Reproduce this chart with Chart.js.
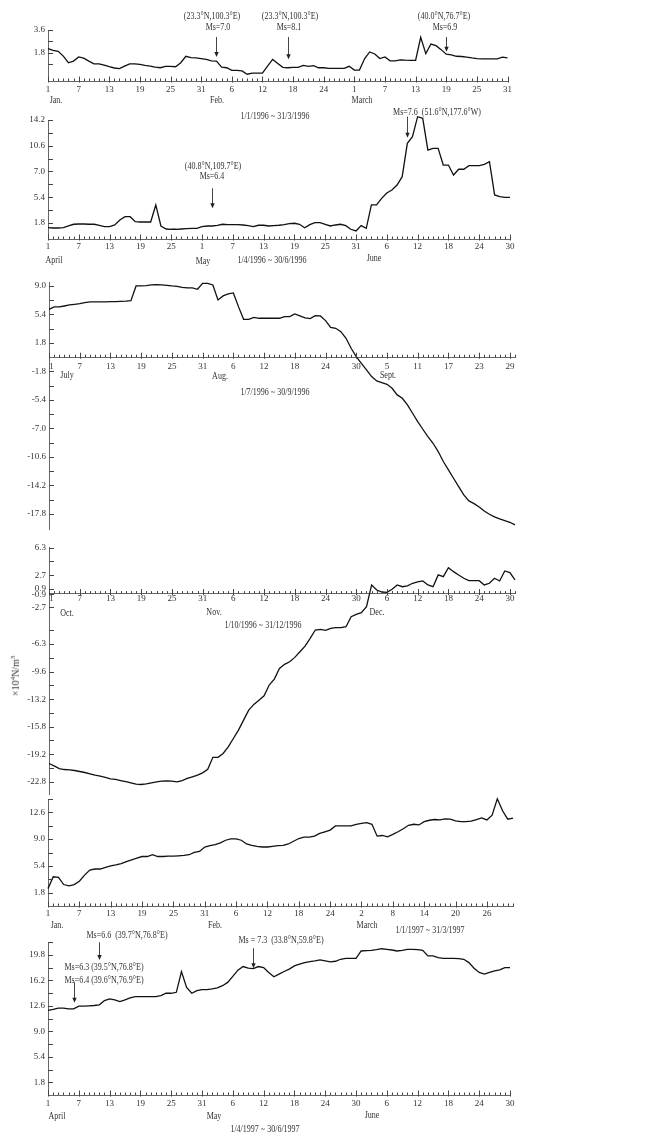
<!DOCTYPE html>
<html>
<head>
<meta charset="utf-8">
<script src="https://cdn.jsdelivr.net/npm/chart.js@4.4.0/dist/chart.umd.min.js"></script>
<style>
  html, body { margin: 0; padding: 0; background: #fff; }
  #wrap { position: relative; width: 656px; height: 1134px; overflow: hidden; }
  #wrap canvas { position: absolute; left: 0; top: 0; }
  .t { position: absolute; font-family: "Liberation Serif", serif; font-size: 10px; color: #333;
       white-space: pre; line-height: 1; transform: translate(-50%, -50%) scaleX(0.8); }
  .unit { position: absolute; left: 15px; top: 676px; font-family: "Liberation Serif", serif; font-size: 10px;
          color: #333; white-space: nowrap; transform: translate(-50%, -50%) rotate(-90deg); }
</style>
</head>
<body>
<div id="wrap">
  <canvas id="c1" width="656" height="1134"></canvas>
  <canvas id="c2" width="656" height="1134"></canvas>
  <canvas id="c3" width="656" height="1134"></canvas>
  <canvas id="c4" width="656" height="1134"></canvas>
  <canvas id="c5" width="656" height="1134"></canvas>
  <canvas id="c6" width="656" height="1134"></canvas>

  <!-- panel 1 -->
  <div class="t" style="left:212px;top:16px">(23.3°N,100.3°E)</div>
  <div class="t" style="left:218px;top:27px">Ms=7.0</div>
  <div class="t" style="left:290px;top:16px">(23.3°N,100.3°E)</div>
  <div class="t" style="left:289px;top:27px">Ms=8.1</div>
  <div class="t" style="left:444px;top:16px">(40.0°N,76.7°E)</div>
  <div class="t" style="left:445px;top:27px">Ms=6.9</div>
  <div class="t" style="left:56px;top:100px">Jan.</div>
  <div class="t" style="left:217px;top:100px">Feb.</div>
  <div class="t" style="left:362px;top:100px">March</div>
  <div class="t" style="left:275px;top:116px">1/1/1996 ~ 31/3/1996</div>

  <!-- panel 2 -->
  <div class="t" style="left:437px;top:112px">Ms=7.6  (51.6°N,177.6°W)</div>
  <div class="t" style="left:213px;top:166px">(40.8°N,109.7°E)</div>
  <div class="t" style="left:212px;top:176px">Ms=6.4</div>
  <div class="t" style="left:54px;top:260px">April</div>
  <div class="t" style="left:203px;top:261px">May</div>
  <div class="t" style="left:272px;top:260px">1/4/1996 ~ 30/6/1996</div>
  <div class="t" style="left:374px;top:258px">June</div>

  <!-- panel 3 -->
  <div class="t" style="left:67px;top:375px">July</div>
  <div class="t" style="left:220px;top:376px">Aug.</div>
  <div class="t" style="left:388px;top:375px">Sept.</div>
  <div class="t" style="left:275px;top:392px">1/7/1996 ~ 30/9/1996</div>

  <!-- panel 4 -->
  <div class="t" style="left:67px;top:613px">Oct.</div>
  <div class="t" style="left:214px;top:612px">Nov.</div>
  <div class="t" style="left:377px;top:612px">Dec.</div>
  <div class="t" style="left:263px;top:625px">1/10/1996 ~ 31/12/1996</div>
  <div class="unit">×10<sup style="font-size:7px">4</sup>N/m<sup style="font-size:7px">3</sup></div>

  <!-- panel 5 -->
  <div class="t" style="left:57px;top:925px">Jan.</div>
  <div class="t" style="left:215px;top:925px">Feb.</div>
  <div class="t" style="left:367px;top:925px">March</div>
  <div class="t" style="left:430px;top:930px">1/1/1997 ~ 31/3/1997</div>

  <!-- panel 6 -->
  <div class="t" style="left:127px;top:935px">Ms=6.6  (39.7°N,76.8°E)</div>
  <div class="t" style="left:281px;top:940px">Ms = 7.3  (33.8°N,59.8°E)</div>
  <div class="t" style="left:104px;top:967px">Ms=6.3 (39.5°N,76.8°E)</div>
  <div class="t" style="left:104px;top:980px">Ms=6.4 (39.6°N,76.9°E)</div>
  <div class="t" style="left:57px;top:1116px">April</div>
  <div class="t" style="left:214px;top:1116px">May</div>
  <div class="t" style="left:372px;top:1115px">June</div>
  <div class="t" style="left:265px;top:1129px">1/4/1997 ~ 30/6/1997</div>
</div>

<script>
// Valores diarios (unidad ×10^4 N/m³)
const p1Values = [2.13, 2.0, 1.93, 1.55, 1.03, 1.16, 1.49, 1.39, 1.16, 0.95,
  0.95, 0.85, 0.72, 0.62, 0.57, 0.77, 0.95, 0.95, 0.9, 0.82,
  0.77, 0.69, 0.64, 0.75, 0.75, 0.72, 1.03, 1.54, 1.44, 1.41,
  1.36, 1.29, 1.18, 1.16, 0.69, 0.64, 0.44, 0.44, 0.39, 0.13,
  0.21, 0.21, 0.21, 0.77, 1.29, 0.98, 0.67, 0.64, 0.67, 0.67,
  0.82, 0.75, 0.8, 0.64, 0.64, 0.59, 0.59, 0.59, 0.59, 0.75,
  0.46, 0.46, 1.34, 1.88, 1.72, 1.36, 1.49, 1.18, 1.18, 1.26,
  1.23, 1.21, 1.21, 3.03, 1.75, 2.5, 2.37, 2.06, 1.7, 1.65,
  1.54, 1.52, 1.47, 1.41, 1.36, 1.34, 1.34, 1.34, 1.34, 1.47, 1.41];

const p2Values = [1.14, 1.1, 1.1, 1.14, 1.38, 1.62, 1.66, 1.66, 1.62, 1.62,
  1.48, 1.29, 1.29, 1.52, 2.22, 2.68, 2.68, 1.98, 1.94, 1.94,
  1.94, 4.32, 1.38, 0.96, 0.92, 0.92, 0.96, 1.01, 1.05, 1.05,
  1.29, 1.38, 1.38, 1.48, 1.62, 1.57, 1.57, 1.57, 1.52, 1.43,
  1.29, 1.48, 1.48, 1.38, 1.43, 1.48, 1.57, 1.71, 1.76, 1.62,
  1.14, 1.57, 1.85, 1.85, 1.62, 1.38, 1.52, 1.62, 1.43, 0.92,
  0.68, 1.43, 1.05, 4.32, 4.32, 5.25, 6.0, 6.41, 7.11, 8.27,
  12.94, 13.87, 16.66, 16.43, 12.0, 12.24, 12.24, 9.9, 9.9, 8.51,
  9.31, 9.31, 9.81, 9.81, 9.81, 10.0, 10.37, 5.72, 5.48, 5.39, 5.39];

const p3Values = [6.05, 6.35, 6.35, 6.47, 6.6, 6.68, 6.77, 6.9, 6.98, 6.98,
  7.0, 7.0, 7.02, 7.02, 7.05, 7.08, 7.15, 9.0, 9.0, 9.04,
  9.13, 9.17, 9.13, 9.08, 9.0, 8.96, 8.83, 8.75, 8.75, 8.58,
  9.34, 9.34, 9.13, 7.23, 7.74, 7.99, 8.12, 6.39, 4.79, 4.79,
  5.04, 4.92, 4.92, 4.92, 4.92, 4.92, 5.13, 5.13, 5.46, 5.21,
  4.96, 4.87, 5.25, 5.21, 4.62, 3.78, 3.65, 3.23, 2.39, 1.13,
  0.07, -0.77, -1.61, -2.45, -3.0, -3.21, -3.42, -3.92, -4.76, -5.19,
  -6.03, -7.08, -8.13, -9.1, -10.03, -10.87, -11.92, -13.18, -14.24, -15.29,
  -16.34, -17.4, -18.15, -18.49, -18.91, -19.42, -19.84, -20.17, -20.43, -20.64,
  -20.85, -21.18];

const p4Values = [-21.91, -22.22, -22.57, -22.7, -22.75, -22.83, -22.96, -23.09, -23.27, -23.44,
  -23.57, -23.74, -23.93, -24.0, -24.14, -24.27, -24.45, -24.62, -24.66, -24.58,
  -24.45, -24.32, -24.23, -24.19, -24.23, -24.32, -24.14, -23.87, -23.66, -23.44,
  -23.14, -22.66, -21.1, -21.1, -20.6, -19.74, -18.64, -17.55, -16.24, -14.93,
  -14.19, -13.63, -13.06, -11.66, -10.88, -9.48, -8.95, -8.61, -8.04, -7.3,
  -6.56, -5.55, -4.46, -4.38, -4.5, -4.24, -4.16, -4.16, -4.03, -2.72,
  -2.41, -2.2, -1.41, 1.43, 0.77, 0.51, 0.47, 0.86, 1.43, 1.2,
  1.3, 1.65, 1.82, 1.95, 1.43, 1.2, 2.74, 2.51, 3.69, 3.17,
  2.74, 2.3, 1.99, 1.99, 1.99, 1.43, 1.65, 2.3, 1.95, 3.26,
  3.04, 2.08];

const p5Values = [2.34, 3.93, 3.84, 2.89, 2.7, 2.89, 3.34, 4.16, 4.84, 4.98,
  4.98, 5.21, 5.39, 5.53, 5.71, 5.98, 6.21, 6.44, 6.66, 6.66,
  6.9, 6.66, 6.66, 6.7, 6.7, 6.75, 6.8, 6.9, 7.21, 7.35,
  7.94, 8.13, 8.26, 8.49, 8.85, 9.04, 9.04, 8.85, 8.35, 8.17,
  8.03, 7.94, 7.94, 8.03, 8.13, 8.17, 8.35, 8.72, 9.08, 9.26,
  9.26, 9.4, 9.77, 9.99, 10.22, 10.77, 10.77, 10.77, 10.77, 11.0,
  11.13, 11.23, 11.0, 9.4, 9.49, 9.31, 9.63, 9.99, 10.4, 10.86,
  11.0, 10.91, 11.36, 11.54, 11.64, 11.59, 11.73, 11.68, 11.45, 11.36,
  11.36, 11.41, 11.64, 11.86, 11.59, 12.23, 14.42, 12.82, 11.68, 11.82];

const p6Values = [11.96, 12.1, 12.29, 12.29, 12.19, 12.19, 12.57, 12.57, 12.61, 12.66,
  12.75, 13.36, 13.6, 13.46, 13.22, 13.46, 13.74, 13.92, 13.92, 13.92,
  13.92, 13.92, 14.06, 14.39, 14.39, 14.53, 17.47, 15.23, 14.39, 14.76,
  14.9, 14.9, 15.0, 15.14, 15.46, 15.93, 16.77, 17.66, 18.17, 17.94,
  17.89, 18.17, 18.03, 17.33, 16.72, 17.1, 17.47, 17.8, 18.27, 18.5,
  18.73, 18.87, 18.97, 19.11, 18.97, 18.83, 18.92, 19.2, 19.34, 19.34,
  19.34, 20.37, 20.41, 20.46, 20.55, 20.69, 20.6, 20.51, 20.37, 20.46,
  20.6, 20.6, 20.55, 20.46, 19.67, 19.67, 19.43, 19.34, 19.34, 19.34,
  19.29, 19.2, 18.73, 17.94, 17.33, 17.1, 17.33, 17.57, 17.7, 18.03, 18.03];

// Etiquetas del eje x (cada 6 días)
const x1Ticks = ['1','7','13','19','25','31','6','12','18','24','1','7','13','19','25','31'];
const x2Ticks = ['1','7','13','19','25','1','7','13','19','25','31','6','12','18','24','30'];
const x3Ticks = ['1','7','13','19','25','31','6','12','18','24','30','5','11','17','23','29'];
const x4Ticks = ['1','7','13','19','25','31','6','12','18','24','30','6','12','18','24','30'];
const x5Ticks = ['1','7','13','19','25','31','6','12','18','24','2','8','14','20','26'];
const x6Ticks = ['1','7','13','19','25','31','6','12','18','24','30','6','12','18','24','30'];

// Marcas del eje y (posición) y el texto que muestra la figura
const y1Vals = [0.9, 1.8, 2.7, 3.6];
const y1Labels = ['', '1.8', '', '3.6'];
const y2Vals = [1.8, 3.6, 5.4, 7.2, 9.0, 10.8, 12.6, 14.4, 16.2];
const y2Labels = ['1.8', '', '5.4', '', '7.0', '', '10.6', '', '14.2'];
const y3Vals = [-19.8, -18, -16.2, -14.4, -12.6, -10.8, -9, -7.2, -5.4, -3.6, -1.8, 1.8, 3.6, 5.4, 7.2, 9.0];
const y3Labels = ['-17.8', '', '-14.2', '', '-10.6', '', '-7.0', '', '-5.4', '', '-1.8', '1.8', '', '5.4', '', '9.0'];
const y4Vals = [-24.3, -22.5, -20.7, -18.9, -17.1, -15.3, -13.5, -11.7, -9.9, -8.1, -6.3, -4.5, -1.5, 0.2, 0.9, 2.7, 4.5, 6.3];
const y4Labels = ['-22.8', '', '-19.2', '', '-15.8', '', '-13.2', '', '-9.6', '', '-6.3', '', '-2.7', '-0.9', '0.9', '2.7', '', '6.3'];
const y5Vals = [1.8, 3.6, 5.4, 7.2, 9.0, 10.8, 12.6, 14.4];
const y5Labels = ['1.8', '', '5.4', '', '9.0', '', '12.6', ''];
const y6Vals = [1.8, 3.6, 5.4, 7.2, 9.0, 10.8, 12.6, 14.4, 16.2, 18.0, 19.8, 21.6];
const y6Labels = ['1.8', '', '5.4', '', '9.0', '', '12.6', '', '16.2', '', '19.8', ''];

// Flechas de sismos: día (índice) y extremos en unidades del eje y
const p1Quakes = [{ at: 33, from: 3.05, to: 1.48 }, { at: 47, from: 3.05, to: 1.3 }, { at: 78, from: 3.05, to: 1.9 }];
const p2Quakes = [{ at: 70, from: 16.66, to: 13.73 }, { at: 32, from: 6.65, to: 3.86 }];
const p6Quakes = [{ at: 10, from: 21.6, to: 19.1 }, { at: 5, from: 15.94, to: 13.06 }, { at: 40, from: 20.75, to: 17.92 }];

const FONT = '"Liberation Serif", serif';
Chart.defaults.font.family = FONT;
Chart.defaults.font.size = 9;
Chart.defaults.color = '#333';

// marcas hacia dentro en ambos ejes, etiquetas de días y flechas
const marksPlugin = {
  id: 'marks',
  afterDraw(chart, args, opts) {
    const { ctx, chartArea: a, scales: { x, y } } = chart;
    const axisY = opts.axisAt !== undefined ? y.getPixelForValue(opts.axisAt) : a.bottom;
    ctx.save();
    ctx.strokeStyle = '#444';
    ctx.lineWidth = 1;
    ctx.beginPath();
    for (let i = 0; i <= x.max; i++) {
      const px = Math.round(x.getPixelForValue(i)) + 0.5;
      const major = i % 6 === 0;
      ctx.moveTo(px, axisY + (major ? 1.5 : 0));
      ctx.lineTo(px, axisY - (major ? 4.5 : 2.5));
    }
    y.ticks.forEach(t => {
      const py = Math.round(y.getPixelForValue(t.value)) + 0.5;
      ctx.moveTo(a.left, py);
      ctx.lineTo(a.left + 5, py);
    });
    ctx.stroke();

    // etiquetas de días (la primera se separa del eje y cuando éste sigue hacia abajo)
    ctx.font = '9px ' + FONT;
    ctx.fillStyle = '#333';
    ctx.textAlign = 'center';
    ctx.textBaseline = 'middle';
    opts.labels.forEach((lab, k) => {
      const shift = (k === 0 && opts.axisAt !== undefined) ? 2.5 : 0;
      ctx.fillText(lab, x.getPixelForValue(k * 6) + shift, axisY + opts.labelGap);
    });

    ctx.fillStyle = '#222';
    (opts.arrows || []).forEach(ar => {
      const px = Math.round(x.getPixelForValue(ar.at)) + 0.5;
      const y1 = y.getPixelForValue(ar.from);
      const y2 = y.getPixelForValue(ar.to);
      ctx.beginPath();
      ctx.moveTo(px, y1);
      ctx.lineTo(px, y2 - 4);
      ctx.stroke();
      ctx.beginPath();
      ctx.moveTo(px - 2.2, y2 - 5);
      ctx.lineTo(px + 2.2, y2 - 5);
      ctx.lineTo(px, y2);
      ctx.closePath();
      ctx.fill();
    });
    ctx.restore();
  }
};

function panel(id, values, xTicks, yVals, yLabels, box, arrows) {
  return new Chart(document.getElementById(id), {
    type: 'line',
    data: {
      datasets: [{
        data: values.map((v, i) => ({ x: i, y: v })),
        borderColor: '#111',
        borderWidth: 1.3,
        pointRadius: 0,
        tension: 0,
        clip: false
      }]
    },
    options: {
      responsive: false,
      animation: false,
      events: [],
      layout: { padding: { left: 0, right: 656 - box.right, top: box.top, bottom: 1134 - box.bottom } },
      plugins: {
        legend: { display: false },
        tooltip: { enabled: false },
        marks: { axisAt: box.axisAt, arrows: arrows, labels: xTicks, labelGap: box.gap || 8 }
      },
      scales: {
        x: {
          type: 'linear',
          min: 0,
          max: box.maxX,
          position: box.axisAt !== undefined ? { y: box.axisAt } : 'bottom',
          afterFit: s => { s.height = 0; },
          ticks: { display: false },
          grid: { display: false, drawTicks: false },
          border: { display: true, color: '#666', width: 1 }
        },
        y: {
          min: box.min,
          max: box.max,
          afterFit: s => { s.width = box.left; },
          afterBuildTicks: s => { s.ticks = yVals.map(v => ({ value: v })); },
          ticks: { autoSkip: false, padding: 3, callback: (v, i) => yLabels[i] },
          grid: { display: false, drawTicks: false },
          border: { display: true, color: '#666', width: 1 }
        }
      }
    },
    plugins: [marksPlugin]
  });
}

panel('c1', p1Values, x1Ticks, y1Vals, y1Labels, { left: 48, right: 507.5, top: 30, bottom: 81, min: -0.4, max: 3.6, maxX: 90, gap: 8.5 }, p1Quakes);
panel('c2', p2Values, x2Ticks, y2Vals, y2Labels, { left: 48, right: 510, top: 120, bottom: 239, min: -0.44, max: 16.2, maxX: 90, gap: 7.5 }, p2Quakes);
panel('c3', p3Values, x3Ticks, y3Vals, y3Labels, { left: 49, right: 515, top: 282.8, bottom: 529, min: -21.7, max: 9.4, maxX: 91, axisAt: 0, gap: 9 }, []);
panel('c4', p4Values, x4Ticks, y4Vals, y4Labels, { left: 49, right: 515, top: 547.7, bottom: 794, min: -25.9, max: 6.3, maxX: 91, axisAt: 0.3, gap: 5 }, []);
panel('c5', p5Values, x5Ticks, y5Vals, y5Labels, { left: 48, right: 513, top: 799, bottom: 906, min: 0, max: 14.4, maxX: 89, gap: 8 }, []);
panel('c6', p6Values, x6Ticks, y6Vals, y6Labels, { left: 48, right: 510, top: 942.3, bottom: 1095, min: 0, max: 21.6, maxX: 90, gap: 8.5 }, p6Quakes);
</script>
</body>
</html>
